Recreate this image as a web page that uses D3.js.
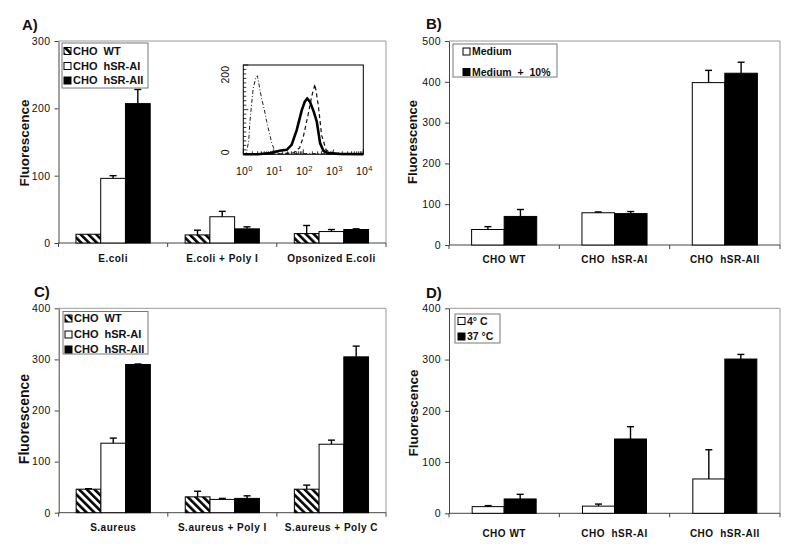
<!DOCTYPE html>
<html><head><meta charset="utf-8">
<script src="https://cdn.jsdelivr.net/npm/d3@7"></script>
<style>
html,body{margin:0;padding:0;background:#fff;}
svg{display:block;}
text{font-family:Arial,"Liberation Sans",sans-serif;fill:#111;white-space:pre;}
</style></head><body>
<svg id="c" width="800" height="551"></svg>
<script>
// ---------- DATA ----------
// Panel A
const catsA = ["E.coli", "E.coli + Poly I", "Opsonized E.coli"];
const seriesA = ["CHO  WT", "CHO  hSR-AI", "CHO  hSR-AII"];
const wtA = [13, 12, 14];
const wtAErr = [0, 7, 12];
const aiA = [96, 39, 17];
const aiAErr = [4, 8, 3];
const aiiA = [207, 21, 20];
const aiiAErr = [21, 3, 1];
const ticksA = [0, 100, 200, 300];
// Panel A inset (log10 fluorescence, counts)
const insetWT = [[0,0],[0.1,2],[0.18,30],[0.22,73],[0.33,148],[0.42,172],[0.47,176],[0.54,150],[0.61,125],[0.7,100],[0.78,73],[0.88,45],[0.95,25],[1.06,5],[1.2,2],[1.5,3],[1.8,1],[2.2,2],[2.6,1],[3.0,1],[3.5,1],[4,0]];
const insetAI = [[0,0],[0.5,0],[0.9,3],[1.2,8],[1.45,10],[1.61,21],[1.78,54],[1.95,99],[2.05,118],[2.13,125],[2.22,118],[2.35,95],[2.45,73],[2.56,25],[2.67,8],[2.8,3],[3.2,1],[4,0]];
const insetAII = [[0,0],[1.4,1],[1.7,4],[1.88,15],[2.0,39],[2.17,92],[2.28,130],[2.39,157],[2.5,110],[2.61,43],[2.76,10],[2.9,4],[3.3,1],[4,0]];
const insetXTicks = [0, 1, 2, 3, 4];
const insetYTicks = [0, 200];
// Panel B
const catsB = ["CHO WT", "CHO  hSR-AI", "CHO  hSR-AII"];
const seriesB = ["Medium", "Medium  +  10%"];
const mediumB = [38, 79, 398];
const mediumBErr = [7, 2, 30];
const medium10B = [70, 77, 421];
const medium10BErr = [17, 5, 27];
const ticksB = [0, 100, 200, 300, 400, 500];
// Panel C
const catsC = ["S.aureus", "S.aureus + Poly I", "S.aureus + Poly C"];
const seriesC = ["CHO  WT", "CHO  hSR-AI", "CHO  hSR-AII"];
const wtC = [46, 31, 46];
const wtCErr = [1, 11, 8];
const aiC = [136, 26, 134];
const aiCErr = [10, 2, 8];
const aiiC = [290, 28, 305];
const aiiCErr = [1, 5, 21];
const ticksC = [0, 100, 200, 300, 400];
// Panel D
const catsD = ["CHO WT", "CHO  hSR-AI", "CHO  hSR-AII"];
const seriesD = ["4\u00b0 C", "37 \u00b0C"];
const c4D = [13, 14, 67];
const c4DErr = [2, 4, 57];
const c37D = [28, 145, 301];
const c37DErr = [9, 24, 9];
const ticksD = [0, 100, 200, 300, 400];

// ---------- DRAWING ----------
const svg = d3.select("#c");
svg.append("rect").attr("width",800).attr("height",551).attr("fill","#fff");
const defs = svg.append("defs");
const pat = defs.append("pattern").attr("id","hatch").attr("patternUnits","userSpaceOnUse")
  .attr("width",5.5).attr("height",5.5).attr("patternTransform","rotate(-45)");
pat.append("rect").attr("width",5.5).attr("height",5.5).attr("fill","#fff");
pat.append("rect").attr("width",2.6).attr("height",5.5).attr("fill","#000");

const FILL = {hatch:"url(#hatch)", white:"#fff", black:"#000"};

function drawPanel(cfg){
  const g = svg.append("g");
  const x = d3.scaleBand().domain(cfg.cats).range([cfg.x0, cfg.x1]);
  const groupW = x.bandwidth()*cfg.groupFrac;
  const off = (x.bandwidth()-groupW)/2;
  const xs = d3.scaleBand().domain(d3.range(cfg.series.length)).range([0, groupW]);
  const y = d3.scaleLinear().domain([0, cfg.ymax]).range([cfg.yb, cfg.yt]);

  // frame (top/right)
  g.append("path").attr("d", `M${cfg.x0},${cfg.yt}H${cfg.x1}V${cfg.yb}`)
    .attr("fill","none").attr("stroke","#9a9a9a").attr("stroke-width",1);

  // y axis
  const ya = g.append("g").attr("transform",`translate(${cfg.x0},0)`)
    .call(d3.axisLeft(y).tickValues(cfg.ticks).tickSize(4).tickPadding(4).tickSizeOuter(0));
  ya.select(".domain").attr("stroke","#444");
  ya.selectAll(".tick line").attr("stroke","#444");
  ya.selectAll(".tick text").attr("font-size",10.5).attr("letter-spacing",0.4)
    .attr("font-family",'Arial,"Liberation Sans",sans-serif').attr("fill","#222");

  // x axis line + ticks at band boundaries
  g.append("line").attr("x1",cfg.x0).attr("x2",cfg.x1).attr("y1",cfg.yb).attr("y2",cfg.yb)
    .attr("stroke","#444");
  const bounds = cfg.cats.map(c=>x(c)).concat([cfg.x1]);
  g.selectAll(".xt").data(bounds).enter().append("line")
    .attr("x1",d=>d).attr("x2",d=>d).attr("y1",cfg.yb).attr("y2",cfg.yb+4).attr("stroke","#444");

  // bars
  cfg.values.forEach((vals, s)=>{
    g.selectAll(null).data(vals).enter().append("rect")
      .attr("x",(d,i)=>x(cfg.cats[i])+off+xs(s))
      .attr("y",d=>y(d))
      .attr("width",xs.bandwidth())
      .attr("height",d=>cfg.yb-y(d))
      .attr("fill",FILL[cfg.fills[s]])
      .attr("stroke","#000").attr("stroke-width",1);
  });
  // error bars
  cfg.values.forEach((vals, s)=>{
    vals.forEach((v,i)=>{
      const e = cfg.errs[s][i];
      if(!e) return;
      const cx = x(cfg.cats[i])+off+xs(s)+xs.bandwidth()/2;
      g.append("line").attr("x1",cx).attr("x2",cx).attr("y1",y(v)).attr("y2",y(v+e))
        .attr("stroke","#000").attr("stroke-width",1.4);
      g.append("line").attr("x1",cx-3.5).attr("x2",cx+3.5).attr("y1",y(v+e)).attr("y2",y(v+e))
        .attr("stroke","#000").attr("stroke-width",1.4);
    });
  });

  // category labels
  g.selectAll(".cl").data(cfg.cats).enter().append("text")
    .attr("x",d=>x(d)+x.bandwidth()/2).attr("y",cfg.labelY)
    .attr("text-anchor","middle").attr("font-size",10).attr("font-weight","bold")
    .attr("letter-spacing",0.5).text(d=>d);

  // y title
  g.append("text").attr("transform",`translate(${cfg.titleX},${cfg.titleY}) rotate(-90)`)
    .attr("text-anchor","middle").attr("font-size",cfg.titleSize).attr("font-weight","bold")
    .text("Fluorescence");
  // panel label
  g.append("text").attr("x",cfg.panelX).attr("y",cfg.panelY).attr("font-size",15)
    .attr("font-weight","bold").text(cfg.panel);

  // legend
  const L = cfg.legend;
  g.append("rect").attr("x",L.x).attr("y",L.y).attr("width",L.w).attr("height",L.h)
    .attr("fill","#fff").attr("stroke","#777").attr("stroke-width",1);
  cfg.series.forEach((name,s)=>{
    const by = L.rows[s];
    g.append("rect").attr("x",L.x+L.sw).attr("y",by-7).attr("width",7).attr("height",7)
      .attr("fill",FILL[cfg.fills[s]]).attr("stroke","#000").attr("stroke-width",1);
    g.append("text").attr("x",L.x+L.sw+9).attr("y",by).attr("font-size",L.fs)
      .attr("font-weight","bold").text(name);
  });
  return g;
}

drawPanel({panel:"A)", panelX:22, panelY:30, cats:catsA, series:seriesA,
  values:[wtA, aiA, aiiA], errs:[wtAErr, aiAErr, aiiAErr], fills:["hatch","white","black"],
  x0:58.5, x1:386, yb:243, yt:41, ymax:300, ticks:ticksA, groupFrac:0.68,
  labelY:262, titleX:29, titleY:143, titleSize:13.5,
  legend:{x:62, y:43, w:86, h:45, sw:2, fs:11, rows:[54.5,69.5,84]}});

drawPanel({panel:"B)", panelX:426, panelY:29, cats:catsB, series:seriesB,
  values:[mediumB, medium10B], errs:[mediumBErr, medium10BErr], fills:["white","black"],
  x0:449, x1:780, yb:245, yt:41, ymax:500, ticks:ticksB, groupFrac:0.59,
  labelY:263, titleX:417, titleY:142, titleSize:13,
  legend:{x:453, y:44, w:104, h:33, sw:10, fs:10.5, rows:[55,75.5]}});

drawPanel({panel:"C)", panelX:34, panelY:297, cats:catsC, series:seriesC,
  values:[wtC, aiC, aiiC], errs:[wtCErr, aiCErr, aiiCErr], fills:["hatch","white","black"],
  x0:58.7, x1:386, yb:512.7, yt:308.3, ymax:400, ticks:ticksC, groupFrac:0.68,
  labelY:531, titleX:28.5, titleY:419, titleSize:14,
  legend:{x:63, y:311.5, w:85, h:42.5, sw:2, fs:11, rows:[322,338,353]}});

drawPanel({panel:"D)", panelX:426, panelY:298, cats:catsD, series:seriesD,
  values:[c4D, c37D], errs:[c4DErr, c37DErr], fills:["white","black"],
  x0:449, x1:780, yb:513.3, yt:308.3, ymax:400, ticks:ticksD, groupFrac:0.58,
  labelY:537, titleX:418, titleY:413, titleSize:13.5,
  legend:{x:455, y:314, w:45, h:29, sw:3, fs:10.5, rows:[324.5,340]}});

// ---------- INSET ----------
(function(){
  const g = svg.append("g");
  const ix = d3.scaleLinear().domain([0,4]).range([243.3, 363.3]);
  const iy = d3.scaleLinear().domain([0,200]).range([154.3, 65]);
  g.append("rect").attr("x",ix(0)).attr("y",iy(200)).attr("width",ix(4)-ix(0)).attr("height",iy(0)-iy(200))
    .attr("fill","#fff").attr("stroke","#000").attr("stroke-width",1);
  // y minor ticks
  g.selectAll(null).data(d3.range(0,201,10)).enter().append("line")
    .attr("x1",ix(0)).attr("x2",d=>ix(0)+(d%100===0?5:3)).attr("y1",d=>iy(d)).attr("y2",d=>iy(d))
    .attr("stroke","#000").attr("stroke-width",0.8);
  // x minor log ticks
  const minor = [];
  insetXTicks.slice(0,-1).forEach(dec=>{ for(let k=1;k<10;k++) minor.push(dec+Math.log10(k)); });
  minor.push(4);
  g.selectAll(null).data(minor).enter().append("line")
    .attr("x1",d=>ix(d)).attr("x2",d=>ix(d)).attr("y1",iy(0)).attr("y2",d=>iy(0)-(Math.abs(d-Math.round(d))<1e-9?5:3))
    .attr("stroke","#000").attr("stroke-width",0.8);
  // x labels
  insetXTicks.forEach(t=>{
    const tx = g.append("text").attr("x",ix(t)+1).attr("y",175).attr("text-anchor","middle")
      .attr("font-size",10.5).attr("letter-spacing",0.3);
    tx.append("tspan").text("10");
    tx.append("tspan").attr("dy",-4).attr("font-size",7.5).text(String(t));
  });
  // y labels
  insetYTicks.forEach(t=>{
    g.append("text").attr("transform",`translate(229,${t===200?iy(t)+1:iy(t)-2}) rotate(-90)`)
      .attr("text-anchor",t===200?"end":"middle").attr("font-size",10.5).text(String(t));
  });
  const line = d3.line().x(d=>ix(d[0])).y(d=>iy(d[1]));
  g.append("path").attr("d",line(insetWT)).attr("fill","none").attr("stroke","#222")
    .attr("stroke-width",1).attr("stroke-dasharray","4,2,1,2");
  g.append("path").attr("d",line(insetAII)).attr("fill","none").attr("stroke","#111")
    .attr("stroke-width",1.2).attr("stroke-dasharray","4,3");
  g.append("path").attr("d",line(insetAI)).attr("fill","none").attr("stroke","#000")
    .attr("stroke-width",2.6);
})();
</script>
</body></html>
